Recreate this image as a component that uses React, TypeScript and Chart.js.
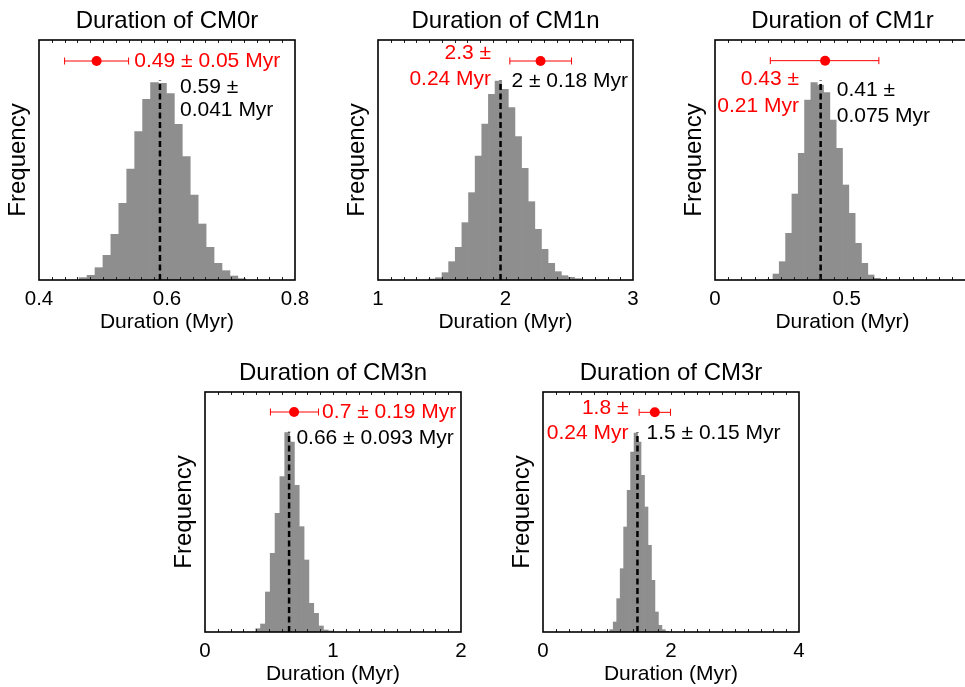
import React, { useEffect, useRef } from "react";
import { Chart, registerables } from "chart.js";

Chart.register(...registerables);

const FONT = "'Liberation Sans', Arial, Helvetica, sans-serif";
const X_AXIS_TITLE = "Duration (Myr)";
const Y_AXIS_TITLE = "Frequency";
const Y_RANGE = [0, 720];

// ---------- CM0r ----------
const cm0rTitle = "Duration of CM0r";
const cm0rRange = [0.4, 0.8];
const cm0rTickLabels = [0.4, 0.6, 0.8];
const cm0rBinStart = 0.4627;
const cm0rBinWidth = 0.0124;
const cm0rCounts = [7, 14, 37, 74, 137, 230, 333, 445, 542, 592, 590, 559, 467, 370, 255, 168, 98, 50, 28, 12, 4];
const cm0rMedian = 0.589;
const cm0rRef = [0.49, 0.44, 0.54]; // value, low, high
const cm0rRefText = ["0.49 ± 0.05 Myr"];
const cm0rPostText = ["0.59 ±", "0.041 Myr"];

// ---------- CM1n ----------
const cm1nTitle = "Duration of CM1n";
const cm1nRange = [1, 3];
const cm1nTickLabels = [1, 2, 3];
const cm1nBinStart = 1.398;
const cm1nBinWidth = 0.052;
const cm1nCounts = [3, 7, 22, 55, 98, 172, 262, 372, 468, 557, 597, 572, 517, 430, 335, 235, 152, 92, 50, 25, 13, 8, 4];
const cm1nMedian = 1.961;
const cm1nRef = [2.275, 2.034, 2.518];
const cm1nRefText = ["2.3 ±", "0.24 Myr"];
const cm1nPostText = ["2 ± 0.18 Myr"];

// ---------- CM1r ----------
const cm1rTitle = "Duration of CM1r";
const cm1rRange = [0, 0.968];
const cm1rTickLabels = [0, 0.5];
const cm1rBinStart = 0.196;
const cm1rBinWidth = 0.024;
const cm1rCounts = [2, 18, 55, 140, 258, 380, 540, 592, 585, 562, 480, 395, 285, 200, 110, 50, 15, 5, 2];
const cm1rMedian = 0.401;
const cm1rRef = [0.418, 0.21, 0.622];
const cm1rRefText = ["0.43 ±", "0.21 Myr"];
const cm1rPostText = ["0.41 ±", "0.075 Myr"];

// ---------- CM3n ----------
const cm3nTitle = "Duration of CM3n";
const cm3nRange = [0, 2];
const cm3nTickLabels = [0, 1, 2];
const cm3nBinStart = 0.396;
const cm3nBinWidth = 0.0378;
const cm3nCounts = [10, 24, 120, 236, 356, 466, 598, 570, 440, 316, 216, 86, 56, 18, 6, 3];
const cm3nMedian = 0.657;
const cm3nRef = [0.696, 0.511, 0.887];
const cm3nRefText = ["0.7 ± 0.19 Myr"];
const cm3nPostText = ["0.66 ± 0.093 Myr"];

// ---------- CM3r ----------
const cm3rTitle = "Duration of CM3r";
const cm3rRange = [0, 4];
const cm3rTickLabels = [0, 2, 4];
const cm3rBinStart = 1.043;
const cm3rBinWidth = 0.0543;
const cm3rCounts = [7, 30, 100, 190, 315, 425, 540, 597, 570, 470, 375, 260, 155, 60, 20, 7, 2];
const cm3rMedian = 1.476;
const cm3rRef = [1.747, 1.502, 1.992];
const cm3rRefText = ["1.8 ±", "0.24 Myr"];
const cm3rPostText = ["1.5 ± 0.15 Myr"];

// ---------- layout / styling (positions are not data) ----------
type TextPos = { x: number; ys: number[]; align: CanvasTextAlign };
type PanelSpec = {
  title: string; range: number[]; tickLabels: number[];
  binStart: number; binWidth: number; counts: number[];
  median: number; ref: number[]; refText: string[]; postText: string[];
  left: number; top: number; w: number; h: number; minor: number;
  refY: number; medTop: number; refPos: TextPos; postPos: TextPos;
};

const panels: PanelSpec[] = [
  {
    title: cm0rTitle, range: cm0rRange, tickLabels: cm0rTickLabels, binStart: cm0rBinStart, binWidth: cm0rBinWidth,
    counts: cm0rCounts, median: cm0rMedian, ref: cm0rRef, refText: cm0rRefText, postText: cm0rPostText,
    left: 39, top: 40, w: 256, h: 240, minor: 0.02, refY: 657, medTop: 600,
    refPos: { x: 0.549, ys: [656], align: "left" },
    postPos: { x: 0.6203, ys: [579, 510], align: "left" },
  },
  {
    title: cm1nTitle, range: cm1nRange, tickLabels: cm1nTickLabels, binStart: cm1nBinStart, binWidth: cm1nBinWidth,
    counts: cm1nCounts, median: cm1nMedian, ref: cm1nRef, refText: cm1nRefText, postText: cm1nPostText,
    left: 378, top: 40, w: 255, h: 240, minor: 0.1, refY: 657, medTop: 600,
    refPos: { x: 1.887, ys: [680, 601], align: "right" },
    postPos: { x: 2.047, ys: [595], align: "left" },
  },
  {
    title: cm1rTitle, range: cm1rRange, tickLabels: cm1rTickLabels, binStart: cm1rBinStart, binWidth: cm1rBinWidth,
    counts: cm1rCounts, median: cm1rMedian, ref: cm1rRef, refText: cm1rRefText, postText: cm1rPostText,
    left: 715, top: 40, w: 255, h: 240, minor: 0.05, refY: 658, medTop: 600,
    refPos: { x: 0.319, ys: [602, 522], align: "right" },
    postPos: { x: 0.462, ys: [569, 490], align: "left" },
  },
  {
    title: cm3nTitle, range: cm3nRange, tickLabels: cm3nTickLabels, binStart: cm3nBinStart, binWidth: cm3nBinWidth,
    counts: cm3nCounts, median: cm3nMedian, ref: cm3nRef, refText: cm3nRefText, postText: cm3nPostText,
    left: 205, top: 392, w: 256, h: 240, minor: 0.1, refY: 660, medTop: 601,
    refPos: { x: 0.915, ys: [658], align: "left" },
    postPos: { x: 0.714, ys: [580], align: "left" },
  },
  {
    title: cm3rTitle, range: cm3rRange, tickLabels: cm3rTickLabels, binStart: cm3rBinStart, binWidth: cm3rBinWidth,
    counts: cm3rCounts, median: cm3rMedian, ref: cm3rRef, refText: cm3rRefText, postText: cm3rPostText,
    left: 543, top: 392, w: 256, h: 240, minor: 0.2, refY: 659, medTop: 600,
    refPos: { x: 1.335, ys: [670, 595], align: "right" },
    postPos: { x: 1.617, ys: [595], align: "left" },
  },
];

const PAD_L = 39;
const PAD_T = 40;
const PAD_B = 60;

const framePlugin = {
  id: "frameTicks",
  afterDatasetsDraw(chart: any, _args: any, opts: any) {
    const { ctx, chartArea } = chart;
    const xs = chart.scales.x;
    const { left, right, top, bottom } = chartArea;
    ctx.save();
    ctx.strokeStyle = "#222";
    ctx.lineWidth = 1;
    const minor = opts.minor as number;
    const start = xs.min;
    const n = Math.round((xs.max - xs.min) / minor + 1e-6);
    for (let i = 1; i <= n; i++) {
      const px = Math.round(xs.getPixelForValue(start + i * minor)) + 0.5;
      if (px >= right - 1) continue;
      ctx.beginPath();
      ctx.moveTo(px, top);
      ctx.lineTo(px, top + 3);
      ctx.moveTo(px, bottom);
      ctx.lineTo(px, bottom - 3);
      ctx.stroke();
    }
    ctx.strokeStyle = "#000";
    ctx.lineWidth = 1.6;
    ctx.strokeRect(left, top, right - left, bottom - top);
    ctx.restore();
  },
};

const textPlugin = {
  id: "annotText",
  afterDatasetsDraw(chart: any, _args: any, opts: any) {
    const { ctx } = chart;
    const xs = chart.scales.x;
    const ys = chart.scales.y;
    ctx.save();
    ctx.font = `21px ${FONT}`;
    ctx.textBaseline = "middle";
    for (const item of opts.items as { lines: string[]; pos: TextPos; color: string }[]) {
      ctx.fillStyle = item.color;
      ctx.textAlign = item.pos.align;
      item.lines.forEach((line, i) => {
        ctx.fillText(line, xs.getPixelForValue(item.pos.x), ys.getPixelForValue(item.pos.ys[i]));
      });
    }
    ctx.restore();
  },
};

function fmt(v: number) {
  return String(Number(v.toFixed(3)));
}

function Panel({ p }: { p: PanelSpec }) {
  const ref = useRef<HTMLCanvasElement>(null);
  const cw = p.w + 2 * PAD_L;
  const ch = p.h + PAD_T + PAD_B;
  useEffect(() => {
    const bars = p.counts.map((c, i) => ({ x: p.binStart + (i + 0.5) * p.binWidth, y: c }));
    const [rv, rlo, rhi] = p.ref;
    const chart = new Chart(ref.current as HTMLCanvasElement, {
      type: "bar",
      data: {
        datasets: [
          {
            type: "line",
            data: [{ x: rv, y: p.refY }],
            showLine: false,
            pointRadius: 5,
            pointBackgroundColor: "#ff0000",
            pointBorderColor: "#ff0000",
            pointBorderWidth: 0,
            order: 1,
          } as any,
          {
            type: "line",
            data: [{ x: rlo, y: p.refY }, { x: rhi, y: p.refY }],
            borderColor: "#ff0000",
            borderWidth: 1,
            pointStyle: "line",
            pointRotation: 90,
            pointRadius: 3.5,
            pointBorderColor: "#ff0000",
            pointBorderWidth: 1,
            order: 2,
          } as any,
          {
            type: "line",
            data: [{ x: p.median, y: 0 }, { x: p.median, y: p.medTop }],
            borderColor: "#000",
            borderWidth: 2.5,
            borderDash: [6, 3.5],
            pointRadius: 0,
            order: 3,
          } as any,
          {
            type: "bar",
            data: bars,
            backgroundColor: "#8e8e8e",
            borderWidth: 0,
            barPercentage: 1,
            categoryPercentage: 1,
            order: 4,
          } as any,
        ],
      },
      options: {
        responsive: false,
        animation: false,
        devicePixelRatio: 1,
        layout: { padding: 0 },
        events: [],
        plugins: {
          legend: { display: false },
          tooltip: { enabled: false },
          title: {
            display: true,
            text: p.title,
            color: "#000",
            font: { family: FONT, size: 24, weight: "normal" },
            padding: { top: 7, bottom: PAD_T - 7 - 28.8 },
          },
          frameTicks: { minor: p.minor },
          annotText: {
            items: [
              { lines: p.refText, pos: p.refPos, color: "#ff0000" },
              { lines: p.postText, pos: p.postPos, color: "#000" },
            ],
          },
        } as any,
        scales: {
          x: {
            type: "linear",
            min: p.range[0],
            max: p.range[1],
            offset: false,
            grid: { display: false, drawTicks: false },
            border: { display: false },
            afterBuildTicks: (s: any) => {
              s.ticks = p.tickLabels.map((v) => ({ value: v }));
            },
            ticks: {
              autoSkip: false,
              maxRotation: 0,
              padding: 7,
              color: "#000",
              font: { family: FONT, size: 20.5 },
              callback: (v: any) => fmt(Number(v)),
            },
            title: {
              display: true,
              text: X_AXIS_TITLE,
              color: "#000",
              font: { family: FONT, size: 21 },
              padding: { top: 0, bottom: 4.7 },
            },
            afterFit: (s: any) => {
              s.height = PAD_B;
              s.paddingLeft = 0;
              s.paddingRight = 0;
            },
          },
          y: {
            min: Y_RANGE[0],
            max: Y_RANGE[1],
            grid: { display: false, drawTicks: false },
            border: { display: false },
            ticks: { display: false },
            title: {
              display: true,
              text: Y_AXIS_TITLE,
              color: "#000",
              font: { family: FONT, size: 24 },
              padding: { top: 4, bottom: 0 },
            },
            afterFit: (s: any) => {
              s.width = PAD_L;
            },
          },
          y2: {
            position: "right",
            display: true,
            grid: { display: false, drawTicks: false },
            border: { display: false },
            ticks: { display: false },
            afterFit: (s: any) => {
              s.width = PAD_L;
            },
          },
        } as any,
      },
      plugins: [framePlugin, textPlugin],
    } as any);
    return () => chart.destroy();
  }, []);
  return (
    <canvas
      ref={ref}
      width={cw}
      height={ch}
      style={{ position: "absolute", left: p.left - PAD_L, top: p.top - PAD_T, width: cw, height: ch }}
    />
  );
}

export default function App() {
  return (
    <div
      style={{
        position: "fixed",
        left: 0,
        top: 0,
        width: 965,
        height: 687,
        overflow: "hidden",
        background: "#fff",
      }}
    >
      {panels.map((p, i) => (
        <Panel key={i} p={p} />
      ))}
    </div>
  );
}
